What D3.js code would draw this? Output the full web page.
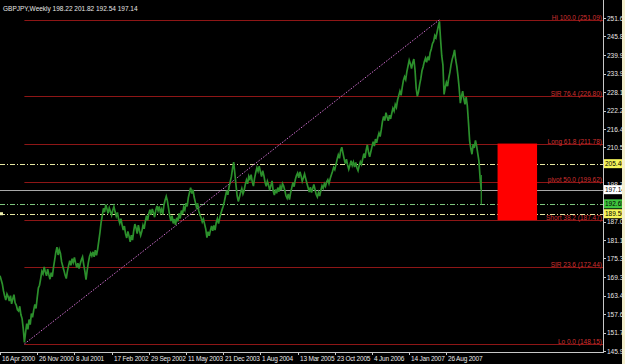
<!DOCTYPE html>
<html>
<head>
<meta charset="utf-8">
<script src="https://cdn.jsdelivr.net/npm/d3@7"></script>
<style>
  body { margin: 0; background: #000; }
  svg { display: block; }
  text { font-family: "Liberation Sans", Arial, sans-serif; }
</style>
</head>
<body>
<div id="chart"></div>
<script>
// weekly closes GBPJPY, week 0 = 16 Apr 2000
const weeklyClose = [
  169.8, 168.5, 167.2, 165.0, 163.4, 162.1, 164.0, 163.2,
  161.8, 163.5, 160.9, 162.4, 163.8, 161.2, 160.5, 159.0,
  158.6, 160.1, 157.4, 156.2, 153.0, 148.6, 151.8, 154.6,
  152.8, 155.9, 154.3, 157.8, 156.6, 158.9, 160.7, 159.4,
  162.8, 165.9, 166.8, 168.9, 171.2, 170.4, 172.6, 171.0,
  169.8, 171.9, 170.2, 168.7, 170.8, 169.5, 172.4, 174.8,
  177.2, 178.9, 176.4, 178.1, 176.9, 174.2, 172.8, 171.5,
  170.0, 168.9, 171.3, 173.0, 174.6, 173.1, 175.2, 174.0,
  175.6, 173.9, 172.4, 173.8, 172.1, 173.6, 174.9, 175.8,
  173.4, 171.2, 168.6, 171.5, 174.0, 175.9, 177.0, 176.1,
  177.4, 175.8, 177.9, 176.3, 178.2, 180.9, 183.6, 186.8,
  188.9, 191.2, 190.0, 192.4, 191.0, 189.6, 191.3, 190.2,
  189.0, 190.6, 191.8, 190.1, 188.7, 189.9, 187.8, 186.5,
  187.9, 186.0, 184.3, 185.6, 183.1, 181.8, 183.9, 182.4,
  180.6, 182.7, 181.1, 184.0, 186.2, 185.0, 183.2, 185.9,
  184.1, 182.6, 183.9, 185.8, 184.7, 187.0, 188.9, 187.4,
  189.5, 190.8, 189.2, 191.0, 189.8, 188.4, 190.6, 192.0,
  190.5, 191.8, 189.9, 190.9, 189.2, 192.2, 193.8, 195.0,
  193.6, 191.2, 188.8, 187.2, 188.9, 186.4, 187.8, 186.0,
  188.2, 187.1, 189.6, 188.0, 190.5, 189.3, 191.6, 190.7,
  192.9, 191.8, 194.6, 196.2, 197.8, 195.9, 197.1, 194.8,
  193.2, 191.6, 192.8, 190.4, 189.1, 188.3, 186.9, 187.8,
  186.2, 184.6, 181.9, 183.8, 182.5, 184.2, 185.6, 184.1,
  185.8, 184.3, 186.7, 187.9, 186.4, 188.2, 189.6, 190.8,
  191.9, 193.4, 195.2, 196.8, 195.5, 197.9, 199.6, 201.2,
  203.8, 205.9, 202.4, 198.6, 195.2, 193.4, 194.8, 196.3,
  197.5, 195.8, 196.9, 198.8, 200.2, 199.0, 201.4, 200.5,
  201.9, 199.6, 198.3, 200.8, 202.6, 204.1, 203.0, 204.6,
  202.8, 201.3, 203.2, 201.6, 199.5, 198.2, 199.8, 198.6,
  197.0, 198.4, 199.9, 196.8, 195.4, 197.2, 196.0, 197.8,
  196.5, 198.2, 197.0, 199.1, 198.3, 196.9, 195.2, 194.4,
  195.8, 194.0, 196.2, 197.8, 199.4, 198.1, 200.3, 201.6,
  202.4, 200.9, 202.8, 201.5, 199.8, 200.9, 202.1, 200.6,
  199.2, 197.8, 196.4, 197.9, 196.2, 197.5, 198.8, 197.2,
  195.6, 194.8, 196.3, 195.1, 196.9, 198.4, 197.6, 199.0,
  198.2, 199.6, 200.3, 199.1, 200.6, 201.8, 202.9, 204.2,
  203.5, 205.1, 206.8, 208.2, 207.1, 209.4, 210.6, 208.8,
  207.0, 205.4, 206.8, 205.0, 203.6, 204.9, 206.3, 204.8,
  205.9, 204.3, 205.8, 204.1, 203.2, 204.8, 206.0, 205.2,
  206.9, 208.6, 207.2, 209.8, 211.4, 209.0, 207.6, 209.2,
  210.8, 212.4, 211.0, 213.2, 212.0, 213.8, 215.1, 214.0,
  216.2, 218.8, 220.4, 219.1, 221.6, 220.2, 219.0, 220.8,
  219.6, 221.4, 223.0, 222.1, 224.2, 223.3, 225.6, 227.0,
  228.4, 227.1, 229.6, 231.8, 233.0, 232.1, 234.6, 236.4,
  238.2, 237.1, 235.6, 237.4, 238.6, 235.2, 229.4, 226.8,
  228.2, 230.6, 232.4, 234.9, 236.2, 237.8, 238.9, 237.6,
  239.4, 238.2, 240.6, 241.8, 243.5, 244.2, 246.1, 245.4,
  247.2, 249.0, 250.6, 244.8, 239.6, 236.8, 227.4, 229.6,
  231.2, 230.0, 232.6, 234.4, 236.8, 238.6, 239.8, 241.5,
  238.4, 236.2, 233.1, 229.4, 224.6, 226.8, 228.4, 226.0,
  224.2, 226.5, 223.8, 218.4, 212.6, 210.2, 208.4, 211.6,
  210.4, 212.8, 211.0, 208.6, 206.2, 200.8, 197.14
];
// last weekly bar: open, high, low, close
const lastBar = [198.22, 201.82, 192.54, 197.14];

// price scale labels (204.65 and 192.85 sit under the price tags)
const priceTicks = [251.65, 245.80, 239.90, 233.95, 228.10, 222.25, 216.40, 210.55,
  198.70, 187.00, 181.15, 175.30, 169.30, 163.45, 157.60, 151.75, 145.90];
const dateTickWeeks = [0, 32, 64, 96, 128, 160, 192, 224, 256, 288, 320, 352, 384];
const dateTickLabels = ["16 Apr 2000", "26 Nov 2000", "8 Jul 2001", "17 Feb 2002", "29 Sep 2002",
  "11 May 2003", "21 Dec 2003", "1 Aug 2004", "13 Mar 2005", "23 Oct 2005", "4 Jun 2006",
  "14 Jan 2007", "26 Aug 2007"];

// fibonacci retracement, low -> high
const fibNames = ["Hi", "SIR", "Long", "pivot", "Short", "SIR", "Lo"];
const fibPercents = ["100.0", "76.4", "61.8", "50.0", "38.2", "23.6", "0.0"];
const fibValues = [251.09, 226.80, 211.78, 199.62, 187.47, 172.44, 148.15];
const swingWeeks = [21, 378];        // low week, high week
const swingPrices = [148.15, 251.09];

// horizontal marker lines (price, kind)
const markerPrices = [205.40, 197.14, 192.65, 189.50];
const markerKinds = ["yellow", "current", "green", "yellow"];

// target box: weeks and prices
const boxWeeks = [428, 462];
const boxPrices = [211.78, 187.47];

const title = "GBPJPY,Weekly  198.22 201.82 192.54 197.14";

const width = 625, height = 364;
const plotRight = 603, plotBottom = 352;

const x = d3.scaleLinear().domain([0, 384]).range([0, 446.4]);
const y = d3.scaleLinear().domain([145.59, 257.37]).range([plotBottom, 0]);

const svg = d3.select("#chart").append("svg")
    .attr("width", width)
    .attr("height", height)
    .style("background", "#000");

svg.append("defs").append("clipPath").attr("id", "plot")
    .append("rect").attr("x", 0).attr("y", 0).attr("width", plotRight).attr("height", plotBottom);

const plot = svg.append("g").attr("clip-path", "url(#plot)");

// marker lines
const markerStyle = {
    yellow: { stroke: "#e6e6a0", dash: "5,2,1,2", bg: "#f5f55a" },
    current: { stroke: "#a8a8a8", dash: null, bg: "#ffffff" },
    green: { stroke: "#7cc47c", dash: "5,2,1,2", bg: "#3ec43e" }
};
plot.selectAll(".marker")
    .data(markerPrices)
    .enter().append("line")
    .attr("x1", 0).attr("x2", plotRight)
    .attr("y1", d => Math.round(y(d)) + 0.5).attr("y2", d => Math.round(y(d)) + 0.5)
    .attr("stroke", (d, i) => markerStyle[markerKinds[i]].stroke)
    .attr("stroke-dasharray", (d, i) => markerStyle[markerKinds[i]].dash);

// fib lines
plot.selectAll(".fib")
    .data(fibValues)
    .enter().append("line")
    .attr("x1", x(swingWeeks[0])).attr("x2", plotRight)
    .attr("y1", d => Math.round(y(d)) + 0.5).attr("y2", d => Math.round(y(d)) + 0.5)
    .attr("stroke", "#8e1616");

// target box
plot.append("rect")
    .attr("x", x(boxWeeks[0]))
    .attr("y", y(boxPrices[0]))
    .attr("width", x(boxWeeks[1]) - x(boxWeeks[0]))
    .attr("height", y(boxPrices[1]) - y(boxPrices[0]))
    .attr("fill", "#ff0000");

// diagonal from low to high
plot.append("line")
    .attr("x1", x(swingWeeks[0])).attr("y1", y(swingPrices[0]))
    .attr("x2", x(swingWeeks[1])).attr("y2", y(swingPrices[1]))
    .attr("stroke", "#d070d0")
    .attr("stroke-dasharray", "1.5,1.5");

// price line
const line = d3.line()
    .x((d, i) => x(i))
    .y(d => y(d));
plot.append("path")
    .datum(weeklyClose)
    .attr("d", line)
    .attr("fill", "none")
    .attr("stroke", "#2c902c")
    .attr("stroke-width", 1.7)
    .attr("stroke-linejoin", "miter");

// current week bar (high-low)
const lastIdx = weeklyClose.length - 1;
plot.append("line")
    .attr("x1", x(lastIdx)).attr("x2", x(lastIdx))
    .attr("y1", y(lastBar[1])).attr("y2", y(lastBar[2]))
    .attr("stroke", "#2c902c")
    .attr("stroke-width", 1.2);

// fib labels
plot.selectAll(".fibLabel")
    .data(fibValues)
    .enter().append("text")
    .attr("x", plotRight - 1)
    .attr("y", d => Math.round(y(d)) - 0.5)
    .attr("text-anchor", "end")
    .attr("font-size", "6.5px")
    .attr("fill", "#d03030")
    .text((d, i) => fibNames[i] + "  " + fibPercents[i] + " (" + d.toFixed(2) + ")");

// small left arrow tag
svg.append("rect")
    .attr("x", 0).attr("y", y(markerPrices[3]) - 1.5)
    .attr("width", 3).attr("height", 3)
    .attr("fill", "#f0f0b0");

// right axis
svg.append("line")
    .attr("x1", plotRight + 0.5).attr("x2", plotRight + 0.5)
    .attr("y1", 0).attr("y2", plotBottom + 0.5)
    .attr("stroke", "#c8c8c8");

const yTicks = svg.append("g");
yTicks.selectAll("line")
    .data(priceTicks)
    .enter().append("line")
    .attr("x1", plotRight).attr("x2", plotRight + 3)
    .attr("y1", d => Math.round(y(d)) + 0.5).attr("y2", d => Math.round(y(d)) + 0.5)
    .attr("stroke", "#c8c8c8");
yTicks.selectAll("text")
    .data(priceTicks)
    .enter().append("text")
    .attr("x", plotRight + 4)
    .attr("y", d => y(d) + 2.5)
    .attr("font-size", "6.5px")
    .attr("fill", "#e8e8e8")
    .text(d => d.toFixed(2));

// price tags for marker lines
const tags = svg.append("g");
tags.selectAll("rect")
    .data(markerPrices)
    .enter().append("rect")
    .attr("x", plotRight + 1)
    .attr("y", d => y(d) - 4.5)
    .attr("width", 20).attr("height", 9)
    .attr("fill", (d, i) => markerStyle[markerKinds[i]].bg);
tags.selectAll("text")
    .data(markerPrices)
    .enter().append("text")
    .attr("x", plotRight + 2)
    .attr("y", d => y(d) + 2.5)
    .attr("font-size", "6.5px")
    .attr("fill", "#000")
    .text(d => d.toFixed(2));

// bottom axis
svg.append("line")
    .attr("x1", 0).attr("x2", plotRight + 1)
    .attr("y1", plotBottom + 0.5).attr("y2", plotBottom + 0.5)
    .attr("stroke", "#c8c8c8");
const xTicks = svg.append("g");
xTicks.selectAll("line")
    .data(dateTickWeeks)
    .enter().append("line")
    .attr("x1", d => Math.round(x(d)) + 0.5).attr("x2", d => Math.round(x(d)) + 0.5)
    .attr("y1", plotBottom).attr("y2", plotBottom + 3)
    .attr("stroke", "#c8c8c8");
xTicks.selectAll("text")
    .data(dateTickWeeks)
    .enter().append("text")
    .attr("x", d => Math.round(x(d)) + 2)
    .attr("y", plotBottom + 9)
    .attr("font-size", "6.5px")
    .attr("letter-spacing", "-0.2px")
    .attr("fill", "#e8e8e8")
    .text((d, i) => dateTickLabels[i]);

// title
svg.append("text")
    .attr("x", 3).attr("y", 11)
    .attr("font-size", "6.5px")
    .attr("fill", "#e8e8e8")
    .text(title);

// window edge on the right
svg.append("rect")
    .attr("x", 622).attr("y", 0)
    .attr("width", 3).attr("height", height)
    .attr("fill", "#f4f0d0");
</script>
</body>
</html>
